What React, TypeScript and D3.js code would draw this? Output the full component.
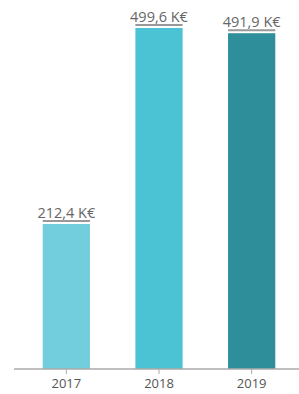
import { useEffect, useRef } from "react";
import * as d3 from "d3";

const years = ["2017", "2018", "2019"];
const values = [212.4, 499.6, 491.9];
const colors = ["#72cddc", "#4bc3d4", "#2e8e9a"];

const width = 299;
const height = 394;
const baseY = 369;

export default function App() {
  const ref = useRef<SVGSVGElement>(null);

  useEffect(() => {
    if (!ref.current) return;
    const svg = d3.select(ref.current);
    svg.selectAll("*").remove();

    const x = d3.scaleBand().domain(years).range([20, 298]).paddingInner(0.49).paddingOuter(0.245);
    const y = d3.scaleLinear().domain([0, 500]).range([baseY, 27.7]);

    const data = years.map((year, i) => ({ year, value: values[i], color: colors[i] }));

    // bars
    svg
      .append("g")
      .selectAll("rect")
      .data(data)
      .join("rect")
      .attr("x", (d) => x(d.year)!)
      .attr("y", (d) => y(d.value))
      .attr("width", x.bandwidth())
      .attr("height", (d) => baseY - y(d.value))
      .attr("fill", (d) => d.color);

    // gray caps above bars
    svg
      .append("g")
      .selectAll("line")
      .data(data)
      .join("line")
      .attr("x1", (d) => x(d.year)!)
      .attr("x2", (d) => x(d.year)! + x.bandwidth())
      .attr("y1", (d) => y(d.value) - 3)
      .attr("y2", (d) => y(d.value) - 3)
      .attr("stroke", "#999")
      .attr("stroke-width", 2);

    // value labels
    svg
      .append("g")
      .selectAll("text")
      .data(data)
      .join("text")
      .attr("x", (d) => x(d.year)! + x.bandwidth() / 2)
      .attr("y", (d) => y(d.value) - 6)
      .attr("text-anchor", "middle")
      .attr("font-family", "'Open Sans', sans-serif")
      .attr("font-size", 14.5)
      .attr("fill", "#666")
      .text((d) => `${d.value.toFixed(1).replace(".", ",")} K€`);

    // x axis
    const axis = svg
      .append("g")
      .attr("transform", `translate(0,${baseY})`)
      .call(d3.axisBottom(x).tickSize(5).tickSizeOuter(0).tickPadding(5));
    axis.select(".domain").remove();
    axis
      .insert("line", ":first-child")
      .attr("x1", 14)
      .attr("x2", width)
      .attr("stroke", "#aaa")
      .attr("stroke-width", 1.5);
    axis.selectAll(".tick line").attr("stroke", "#aaa");
    axis
      .selectAll(".tick text")
      .attr("font-family", "'Open Sans', sans-serif")
      .attr("font-size", 13)
      .attr("fill", "#555");
  }, []);

  return (
    <svg
      ref={ref}
      width={width}
      height={height}
      style={{ position: "absolute", left: 0, top: 0, background: "#fff" }}
    />
  );
}
